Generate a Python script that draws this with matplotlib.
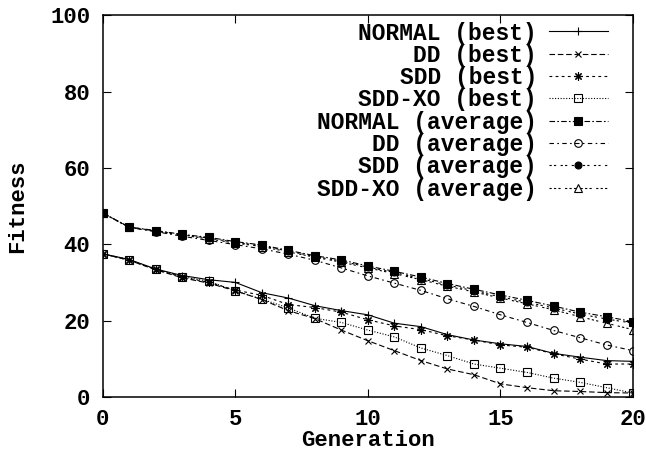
import matplotlib
matplotlib.use("Agg")
from matplotlib import pyplot as plt

plt.rcParams['font.family'] = ['Liberation Mono', 'DejaVu Sans Mono']
plt.rcParams['font.weight'] = 'bold'

generation = list(range(21))

normal_best = [37.5, 36.0, 33.5, 31.8, 30.7, 30.0, 27.3, 25.9, 23.9, 22.6, 21.5,
               19.3, 18.4, 16.3, 14.9, 13.9, 13.2, 11.4, 10.4, 9.5, 9.3]
dd_best = [37.5, 35.8, 33.3, 31.2, 29.8, 27.8, 25.5, 22.6, 20.5, 17.5, 14.7,
           12.1, 9.5, 7.3, 5.8, 3.4, 2.4, 1.6, 1.4, 1.1, 1.0]
sdd_best = [37.5, 35.8, 33.4, 31.4, 30.0, 28.0, 26.6, 24.2, 23.4, 22.2, 20.2,
            18.6, 17.6, 16.0, 14.9, 13.6, 13.0, 11.3, 9.9, 8.6, 8.6]
sddxo_best = [37.5, 36.0, 33.5, 31.5, 30.3, 27.8, 25.6, 23.3, 20.6, 19.5, 17.5,
              15.7, 12.8, 10.8, 8.6, 7.5, 6.4, 4.9, 3.8, 2.4, 1.0]

normal_avg = [48.2, 44.5, 43.6, 42.6, 41.8, 40.7, 39.8, 38.4, 37.0, 35.9, 34.3,
              32.9, 31.4, 29.7, 28.2, 26.7, 25.3, 23.8, 22.2, 21.0, 19.7]
dd_avg = [48.2, 44.4, 43.3, 42.1, 41.0, 39.9, 38.8, 37.4, 35.8, 33.8, 31.7,
          29.8, 27.9, 25.7, 23.7, 21.5, 19.5, 17.4, 15.5, 13.6, 12.1]
sdd_avg = [48.2, 44.5, 43.5, 42.5, 41.6, 40.5, 39.6, 38.2, 36.8, 35.6, 34.0,
           32.6, 31.0, 29.3, 27.8, 26.2, 24.8, 23.3, 21.7, 20.4, 19.3]
sddxo_avg = [48.2, 44.4, 43.4, 42.4, 41.4, 40.3, 39.4, 38.0, 36.6, 35.3, 33.8,
             32.3, 30.7, 29.0, 27.5, 25.9, 24.4, 22.8, 21.0, 19.3, 17.6]

labels = ['NORMAL (best)', 'DD (best)', 'SDD (best)', 'SDD-XO (best)',
          'NORMAL (average)', 'DD (average)', 'SDD (average)', 'SDD-XO (average)']

fig = plt.figure(figsize=(6.46, 4.53), dpi=100)
ax = fig.add_axes([0.159, 0.124, 0.821, 0.842])

lw = 0.8
ms = 6
ax.plot(generation, normal_best, color='black', lw=lw, linestyle='-',
        marker='+', ms=ms, mew=0.8, label=labels[0])
ax.plot(generation, dd_best, color='black', lw=lw, linestyle=(0, (5, 2.5)),
        marker='x', ms=5, mew=0.8, label=labels[1])
ax.plot(generation, sdd_best, color='black', lw=lw, linestyle=(0, (2.5, 3)),
        marker=(8, 2, 0), ms=ms, mew=0.8, label=labels[2])
ax.plot(generation, sddxo_best, color='black', lw=lw, linestyle=(0, (1, 1.5)),
        marker='s', ms=5.5, mfc='none', mew=0.8, label=labels[3])
ax.plot(generation, normal_avg, color='black', lw=lw, linestyle=(0, (5, 2, 1.5, 2)),
        marker='s', ms=5.5, mfc='black', mew=0.8, label=labels[4])
ax.plot(generation, dd_avg, color='black', lw=lw, linestyle=(0, (4, 3, 1.5, 3)),
        marker='o', ms=5.5, mfc='none', mew=0.8, label=labels[5])
ax.plot(generation, sdd_avg, color='black', lw=lw, linestyle=(0, (2, 2, 2, 4)),
        marker='o', ms=5, mfc='black', mew=0.8, label=labels[6])
ax.plot(generation, sddxo_avg, color='black', lw=lw, linestyle=(0, (2, 2, 2, 2, 2, 4)),
        marker='^', ms=5.5, mfc='none', mew=0.8, label=labels[7])

ax.set_xlim(0, 20)
ax.set_ylim(0, 100)
ax.set_xticks([0, 5, 10, 15, 20])
ax.set_yticks([0, 20, 40, 60, 80, 100])
ax.tick_params(direction='in', length=6, width=0.8, top=True, right=True,
               labelsize=16, pad=9)
for s in ax.spines.values():
    s.set_linewidth(1.1)

ax.set_xlabel('Generation', fontsize=16, fontweight='bold', labelpad=0)
ax.set_ylabel('Fitness', fontsize=16, fontweight='bold', labelpad=16)

ax.legend(loc='upper right', bbox_to_anchor=(0.953, 0.984), frameon=False,
          markerfirst=False, fontsize=16.5, handlelength=2.6, handletextpad=0.5,
          labelspacing=-0.03, borderaxespad=0, borderpad=0)

plt.savefig('out.png', dpi=100)
